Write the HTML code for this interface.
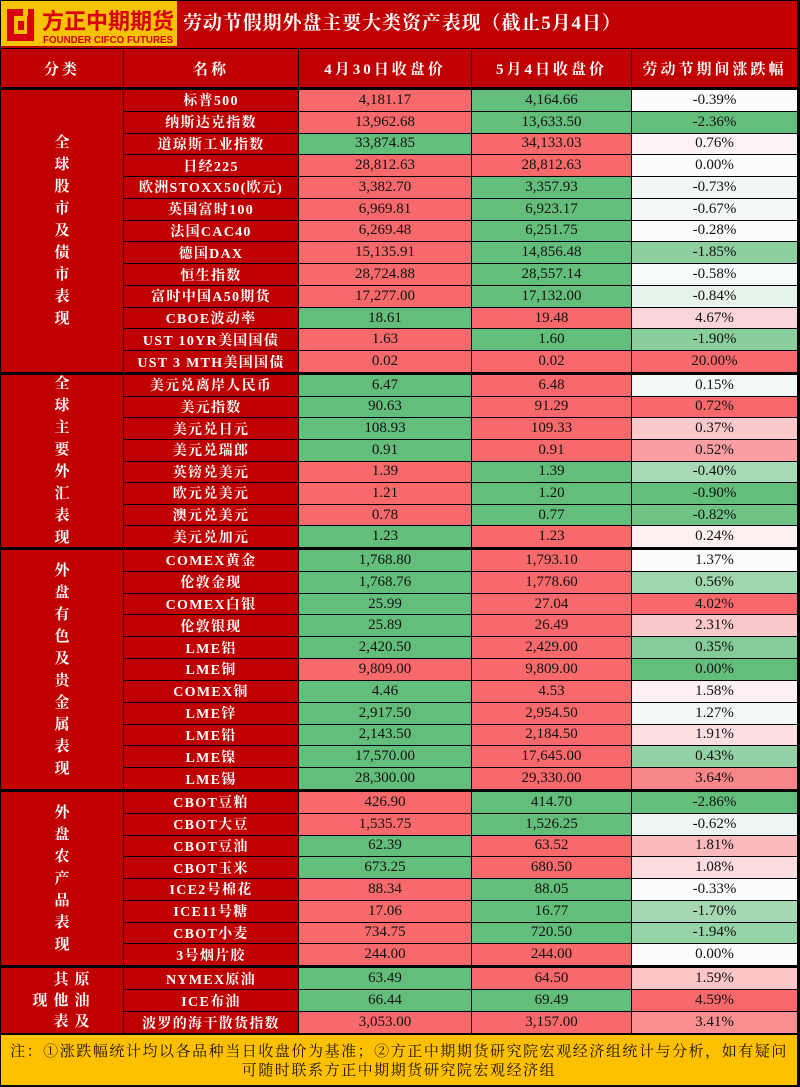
<!DOCTYPE html>
<html><head><meta charset="utf-8">
<style>
*{margin:0;padding:0;box-sizing:border-box}
html,body{width:800px;height:1087px;overflow:hidden;background:#000}
body{position:relative;font-family:"Liberation Serif","Noto Serif CJK SC",serif}
.title{position:absolute;left:1px;top:1px;width:796px;height:47px;background:#C00000}
.title .t{position:absolute;left:182px;top:11px;color:#fff;font-weight:bold;font-size:19px;letter-spacing:0.9px;white-space:nowrap;line-height:24px}
.logo{position:absolute;left:0;top:0;width:176px;height:45px}
.grid{position:absolute;left:0;width:800px;display:grid;grid-template-columns:122px 174px 172px 159px 165px;column-gap:1px;row-gap:1px;padding:0 3px 0 1px;background:#000}
.grid>div{display:flex;align-items:center;justify-content:center;white-space:nowrap;overflow:hidden}
.h{background:#C00000;color:#fff;font-weight:bold;font-size:15px;letter-spacing:3px}
.cat{grid-row:1/-1;background:#C00000;color:#fff;font-weight:bold;font-size:15px;flex-direction:column}
.cat span{display:block;line-height:22px;height:22px}
.n{background:#C00000;color:#fff;font-weight:bold;font-size:14px;letter-spacing:1.3px}
.v{font-size:15px;color:#111}
.r{background:#F8696B}
.g{background:#63BE7B}
.foot{position:absolute;left:1px;top:1035px;width:796px;height:50px;background:#FFC000;color:#1a1400;font-size:15px;letter-spacing:1.55px;text-align:center;line-height:19px;padding-top:8px}
.c5{position:absolute;color:#fff;font-weight:bold;font-size:15px;line-height:16px;width:16px;text-align:center}
</style></head><body>
<div class="title">
<svg class="logo" width="176" height="45" viewBox="0 0 176 45">
<rect x="0" y="0" width="176" height="45" fill="#F7C200"/>
<path d="M6 8 H33 V40 H6 Z M13 15 V33 H26 V15 Z" fill="#D7000F" fill-rule="evenodd"/>
<rect x="22" y="8" width="5" height="7" fill="#F7C200"/>
<rect x="17" y="20" width="6" height="9" fill="#D7000F"/>
<text x="41" y="28" font-family="Noto Sans CJK SC, sans-serif" font-weight="bold" font-size="22" fill="#D7000F" textLength="132" lengthAdjust="spacingAndGlyphs">方正中期期货</text>
<text x="42" y="42" font-family="Liberation Sans, sans-serif" font-weight="bold" font-size="10" fill="#D7000F" textLength="130" lengthAdjust="spacingAndGlyphs">FOUNDER CIFCO FUTURES</text>
</svg>
<div class="t">劳动节假期外盘主要大类资产表现（截止5月4日）</div>
</div>

<div class="grid" style="top:49px;height:38px;grid-template-rows:1fr">
<div class="h">分类</div><div class="h">名称</div><div class="h">4月30日收盘价</div><div class="h">5月4日收盘价</div><div class="h">劳动节期间涨跌幅</div>
</div>

<div class="grid" style="top:90px;height:282px;grid-template-rows:repeat(13,1fr)">
<div class="cat"><span>全</span><span>球</span><span>股</span><span>市</span><span>及</span><span>债</span><span>市</span><span>表</span><span>现</span></div>
<div class="n">标普500</div><div class="v r">4,181.17</div><div class="v g">4,164.66</div><div class="v" style="background:#FCFCFF">-0.39%</div>
<div class="n">纳斯达克指数</div><div class="v r">13,962.68</div><div class="v g">13,633.50</div><div class="v" style="background:#63BE7B">-2.36%</div>
<div class="n">道琼斯工业指数</div><div class="v g">33,874.85</div><div class="v r">34,133.03</div><div class="v" style="background:#FCF3F5">0.76%</div>
<div class="n">日经225</div><div class="v r">28,812.63</div><div class="v r">28,812.63</div><div class="v" style="background:#FCFCFF">0.00%</div>
<div class="n">欧洲STOXX50(欧元)</div><div class="v r">3,382.70</div><div class="v g">3,357.93</div><div class="v" style="background:#F1F8F4">-0.73%</div>
<div class="n">英国富时100</div><div class="v r">6,969.81</div><div class="v g">6,923.17</div><div class="v" style="background:#F4F9F7">-0.67%</div>
<div class="n">法国CAC40</div><div class="v r">6,269.48</div><div class="v g">6,251.75</div><div class="v" style="background:#FCFCFF">-0.28%</div>
<div class="n">德国DAX</div><div class="v r">15,135.91</div><div class="v g">14,856.48</div><div class="v" style="background:#8DCF9F">-1.85%</div>
<div class="n">恒生指数</div><div class="v r">28,724.88</div><div class="v g">28,557.14</div><div class="v" style="background:#F8FBFC">-0.58%</div>
<div class="n">富时中国A50期货</div><div class="v r">17,277.00</div><div class="v g">17,132.00</div><div class="v" style="background:#E6F3EA">-0.84%</div>
<div class="n">CBOE波动率</div><div class="v g">18.61</div><div class="v r">19.48</div><div class="v" style="background:#FBD5D8">4.67%</div>
<div class="n">UST 10YR美国国债</div><div class="v r">1.63</div><div class="v g">1.60</div><div class="v" style="background:#8ACE9C">-1.90%</div>
<div class="n">UST 3 MTH美国国债</div><div class="v r">0.02</div><div class="v r">0.02</div><div class="v" style="background:#F8696B">20.00%</div>
</div>

<div class="grid" style="top:375px;height:172px;grid-template-rows:repeat(8,1fr)">
<div class="cat"><span>全</span><span>球</span><span>主</span><span>要</span><span>外</span><span>汇</span><span>表</span><span>现</span></div>
<div class="n">美元兑离岸人民币</div><div class="v g">6.47</div><div class="v r">6.48</div><div class="v" style="background:#F3F8F9">0.15%</div>
<div class="n">美元指数</div><div class="v g">90.63</div><div class="v r">91.29</div><div class="v" style="background:#F8696B">0.72%</div>
<div class="n">美元兑日元</div><div class="v g">108.93</div><div class="v r">109.33</div><div class="v" style="background:#FBC8CB">0.37%</div>
<div class="n">美元兑瑞郎</div><div class="v g">0.91</div><div class="v r">0.91</div><div class="v" style="background:#F99FA2">0.52%</div>
<div class="n">英镑兑美元</div><div class="v r">1.39</div><div class="v g">1.39</div><div class="v" style="background:#A8DBB5">-0.40%</div>
<div class="n">欧元兑美元</div><div class="v r">1.21</div><div class="v g">1.20</div><div class="v" style="background:#63BE7B">-0.90%</div>
<div class="n">澳元兑美元</div><div class="v r">0.78</div><div class="v g">0.77</div><div class="v" style="background:#6FC385">-0.82%</div>
<div class="n">美元兑加元</div><div class="v g">1.23</div><div class="v r">1.23</div><div class="v" style="background:#FCF0F1">0.24%</div>
</div>

<div class="grid" style="top:550px;height:239px;grid-template-rows:repeat(11,1fr)">
<div class="cat"><span>外</span><span>盘</span><span>有</span><span>色</span><span>及</span><span>贵</span><span>金</span><span>属</span><span>表</span><span>现</span></div>
<div class="n">COMEX黄金</div><div class="v g">1,768.80</div><div class="v r">1,793.10</div><div class="v" style="background:#FCFCFF">1.37%</div>
<div class="n">伦敦金现</div><div class="v g">1,768.76</div><div class="v r">1,778.60</div><div class="v" style="background:#A0D7AE">0.56%</div>
<div class="n">COMEX白银</div><div class="v g">25.99</div><div class="v r">27.04</div><div class="v" style="background:#F8696B">4.02%</div>
<div class="n">伦敦银现</div><div class="v g">25.89</div><div class="v r">26.49</div><div class="v" style="background:#FBC9CC">2.31%</div>
<div class="n">LME铝</div><div class="v g">2,420.50</div><div class="v r">2,429.00</div><div class="v" style="background:#86CC99">0.35%</div>
<div class="n">LME铜</div><div class="v r">9,809.00</div><div class="v r">9,809.00</div><div class="v" style="background:#63BE7B">0.00%</div>
<div class="n">COMEX铜</div><div class="v g">4.46</div><div class="v r">4.53</div><div class="v" style="background:#FCF0F2">1.58%</div>
<div class="n">LME锌</div><div class="v g">2,917.50</div><div class="v r">2,954.50</div><div class="v" style="background:#F3F8F5">1.27%</div>
<div class="n">LME铅</div><div class="v g">2,143.50</div><div class="v r">2,184.50</div><div class="v" style="background:#FBDFE1">1.91%</div>
<div class="n">LME镍</div><div class="v g">17,570.00</div><div class="v r">17,645.00</div><div class="v" style="background:#94D2A5">0.43%</div>
<div class="n">LME锡</div><div class="v g">28,300.00</div><div class="v r">29,330.00</div><div class="v" style="background:#F98688">3.64%</div>
</div>

<div class="grid" style="top:792px;height:173px;grid-template-rows:repeat(8,1fr)">
<div class="cat"><span>外</span><span>盘</span><span>农</span><span>产</span><span>品</span><span>表</span><span>现</span></div>
<div class="n">CBOT豆粕</div><div class="v r">426.90</div><div class="v g">414.70</div><div class="v" style="background:#63BE7B">-2.86%</div>
<div class="n">CBOT大豆</div><div class="v r">1,535.75</div><div class="v g">1,526.25</div><div class="v" style="background:#EDF6F0">-0.62%</div>
<div class="n">CBOT豆油</div><div class="v g">62.39</div><div class="v r">63.52</div><div class="v" style="background:#FAB9BC">1.81%</div>
<div class="n">CBOT玉米</div><div class="v g">673.25</div><div class="v r">680.50</div><div class="v" style="background:#FCDCDE">1.08%</div>
<div class="n">ICE2号棉花</div><div class="v r">88.34</div><div class="v g">88.05</div><div class="v" style="background:#FCFCFF">-0.33%</div>
<div class="n">ICE11号糖</div><div class="v r">17.06</div><div class="v g">16.77</div><div class="v" style="background:#A6D9B3">-1.70%</div>
<div class="n">CBOT小麦</div><div class="v r">734.75</div><div class="v g">720.50</div><div class="v" style="background:#96D3A6">-1.94%</div>
<div class="n">3号烟片胶</div><div class="v r">244.00</div><div class="v r">244.00</div><div class="v" style="background:#FCFCFF">0.00%</div>
</div>

<div class="grid" style="top:968px;height:65px;grid-template-rows:repeat(3,1fr)">
<div class="cat" style="position:relative"></div>
<div class="n">NYMEX原油</div><div class="v g">63.49</div><div class="v r">64.50</div><div class="v" style="background:#FCC6C9">1.59%</div>
<div class="n">ICE布油</div><div class="v g">66.44</div><div class="v g">69.49</div><div class="v" style="background:#F8696B">4.59%</div>
<div class="n">波罗的海干散货指数</div><div class="v r">3,053.00</div><div class="v r">3,157.00</div><div class="v" style="background:#F98F91">3.41%</div>
</div>
<div class="c5" style="left:53px;top:972px">其</div>
<div class="c5" style="left:74px;top:972px">原</div>
<div class="c5" style="left:32px;top:993px">现</div>
<div class="c5" style="left:53px;top:993px">他</div>
<div class="c5" style="left:74px;top:993px">油</div>
<div class="c5" style="left:53px;top:1014px">表</div>
<div class="c5" style="left:74px;top:1014px">及</div>

<div class="foot">注：①涨跌幅统计均以各品种当日收盘价为基准；②方正中期期货研究院宏观经济组统计与分析，如有疑问<br>可随时联系方正中期期货研究院宏观经济组</div>
</body></html>
